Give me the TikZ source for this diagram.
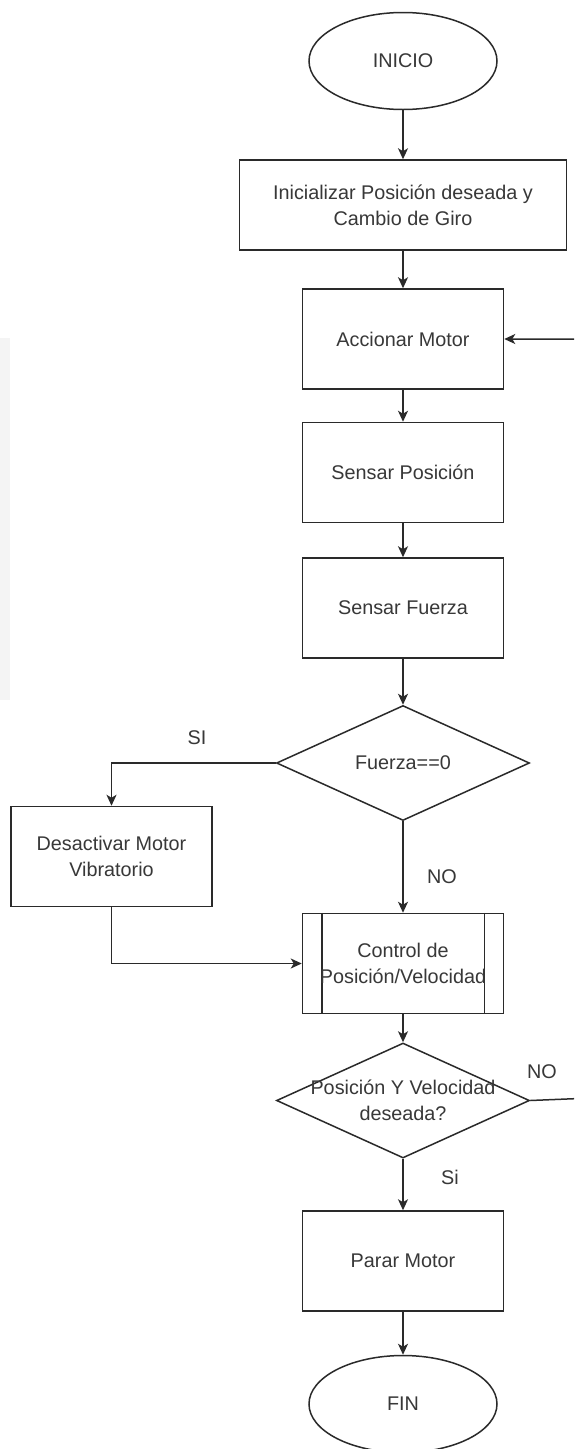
\documentclass[tikz,border=0pt]{standalone}
\usepackage{fontspec}
\setmainfont{Liberation Sans}
\usetikzlibrary{arrows.meta,shapes.geometric}
\definecolor{ink}{HTML}{2A2A2A}
\definecolor{txt}{HTML}{383838}
\definecolor{faint}{HTML}{F4F4F4}

\begin{document}
\begin{tikzpicture}[x=1pt,y=-1pt,
  every node/.style={font=\fontsize{19.8}{25}\selectfont, text=txt},
  box/.style={draw=ink, line width=1.5pt, fill=white, minimum width=201pt, minimum height=100pt, align=center, inner sep=0pt},
  term/.style={draw=ink, line width=1.5pt, fill=white, ellipse, minimum width=188pt, minimum height=97pt, inner sep=0pt},
  cond/.style={draw=ink, line width=1.5pt, fill=white, diamond, minimum width=253pt, minimum height=115pt, inner sep=0pt},
  flow/.style={draw=ink, line width=1.5pt, -{Stealth[length=11pt,width=10pt,inset=3pt]}},
  link/.style={draw=ink, line width=1.5pt},
  lbl/.style={inner sep=0pt, align=center}
]
\useasboundingbox (0,0) rectangle (574,1449);
\clip (0,0) rectangle (574,1449);
\fill[white] (0,0) rectangle (574,1449);
% faint background band on the left edge
\fill[faint] (0,338) rectangle (10,700);

% main column
\node[term] (ini) at (403,61) {INICIO};
\node[box, minimum width=327pt, minimum height=90pt] (init) at (403,205)
  {Inicializar Posición deseada y\\[1pt]Cambio de Giro};
\node[box] (acc) at (403,339) {Accionar Motor};
\node[box] (spos) at (403,472.5) {Sensar Posición};
\node[box] (sfu) at (403,608) {Sensar Fuerza};
\node[cond] (d1) at (403,763) {};
\node[lbl] (d1t) at (d1) {Fuerza==0};
\node[box] (des) at (111.5,856.5) {Desactivar Motor\\[1pt]Vibratorio};
\node[box] (ctrl) at (403,963.5) {};
\draw[link] ([xshift=20pt]ctrl.north west) -- ([xshift=20pt]ctrl.south west);
\draw[link] ([xshift=-20pt]ctrl.north east) -- ([xshift=-20pt]ctrl.south east);
\node[lbl] (ctrlt) at (ctrl) {Control de\\[1pt]Posición/Velocidad};
\node[cond] (d2) at (403,1100.5) {};
\node[lbl] (d2t) at (d2) {Posición Y Velocidad\\[1pt]deseada?};
\node[box] (stop) at (403,1261) {Parar Motor};
\node[term] (fin) at (403,1404) {FIN};

% connectors
\draw[flow] (ini) -- (init);
\draw[flow] (init) -- (acc);
\draw[flow] (acc) -- (spos);
\draw[flow] (spos) -- (sfu);
\draw[flow] (sfu) -- (d1);
\draw[flow] (d1.west) -- (des.north |- d1.west) -- (des.north);
\draw[flow] (des.south) -- (des.south |- ctrl.west) -- (ctrl.west);
\draw[flow] (d1.south) -- (ctrl.north);
\draw[flow] (ctrl) -- (d2);
\draw[flow] (d2.south) -- (stop.north);
\draw[flow] (stop) -- (fin);

% loop back from the second decision
\coordinate (loopB) at (640,1096);
\coordinate (loopT) at (640,339);
\draw[flow] (d2.east) -- (loopB) -- (loopT) -- (acc.east);

% branch labels
\node[lbl] (si1) at (197,738) {SI};
\node[lbl] (no1) at (442,877) {NO};
\node[lbl] (no2) at (542,1072) {NO};
\node[lbl] (si2) at (450,1177) {Si};
\end{tikzpicture}
\end{document}
